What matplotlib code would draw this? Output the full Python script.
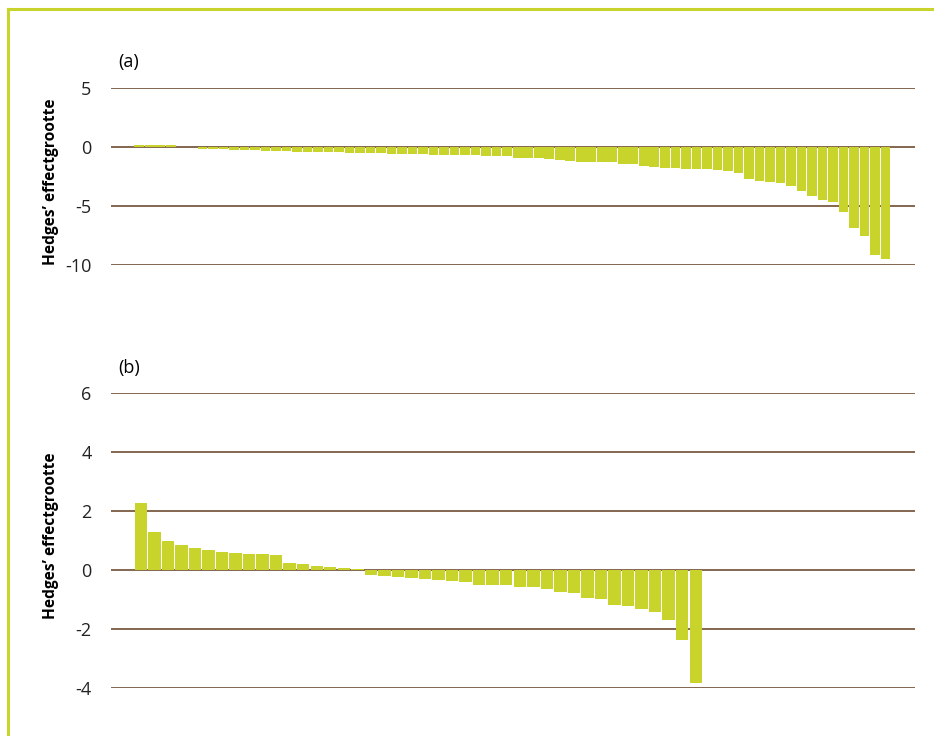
import matplotlib
matplotlib.use('Agg')
import matplotlib.pyplot as plt
from matplotlib.lines import Line2D

# ================================================================
# Data (Hedges' effect sizes, sorted)
# ================================================================
effects_a = [
    0.20, 0.20, 0.15, 0.15, 0.0, 0.0,
    -0.14, -0.14, -0.14, -0.23, -0.23, -0.23, -0.31, -0.31, -0.31,
    -0.40, -0.40, -0.40, -0.40, -0.40, -0.48, -0.48, -0.48, -0.48,
    -0.56, -0.56, -0.56, -0.56, -0.65, -0.65, -0.65, -0.65, -0.65,
    -0.73, -0.73, -0.73, -0.90, -0.90, -0.90, -0.99, -1.07, -1.16,
    -1.24, -1.30, -1.30, -1.30, -1.47, -1.47, -1.61, -1.69, -1.81,
    -1.81, -1.89, -1.89, -1.89, -1.95, -2.03, -2.18, -2.68, -2.85,
    -2.94, -3.02, -3.30, -3.73, -4.12, -4.52, -4.69, -5.48, -6.86,
    -7.51, -9.12, -9.49,
]
effects_b = [
    2.27, 1.30, 0.98, 0.85, 0.75, 0.68, 0.61, 0.59, 0.55, 0.55, 0.52,
    0.24, 0.19, 0.12, 0.10, 0.07, 0.02,
    -0.16, -0.19, -0.23, -0.26, -0.30, -0.34, -0.36, -0.40, -0.50,
    -0.50, -0.50, -0.56, -0.56, -0.63, -0.75, -0.78, -0.94, -0.98,
    -1.17, -1.21, -1.31, -1.43, -1.69, -2.38, -3.83,
]
ticks_a = [5, 0, -5, -10]
ticks_b = [6, 4, 2, 0, -2, -4]
panel_labels = ["(a)", "(b)"]
ylabel = "Hedges\u2019 effectgrootte"

# ================================================================
# Style
# ================================================================
BAR = "#c8d42c"
GRID = "#7b5b42"
plt.rcParams["font.family"] = ["Open Sans", "DejaVu Sans"]

W, H = 934, 736
fig = plt.figure(figsize=(W / 100, H / 100), dpi=100)


def px_axes(left, top, right, bottom):
    return fig.add_axes([left / W, 1 - bottom / H, (right - left) / W, (bottom - top) / H])


def draw_panel(ax, values, ticks, xlim):
    xs = range(len(values))
    ax.bar(xs, values, width=0.92, color=BAR, linewidth=0, zorder=3)
    for t in ticks:
        ax.axhline(t, color=GRID, lw=1.3, zorder=2)
    ax.set_xlim(*xlim)
    ax.set_ylim(min(ticks), max(ticks))
    ax.set_yticks(ticks)
    ax.set_yticklabels([str(t) for t in ticks], fontsize=13, color="#222222")
    ax.tick_params(axis="y", length=0, pad=14)
    ax.set_xticks([])
    for s in ax.spines.values():
        s.set_visible(False)
    ax.set_facecolor("none")


# panel (a)
ax_a = px_axes(111, 88, 915, 265)
draw_panel(ax_a, effects_a, ticks_a, (-2.69, 73.8))

# panel (b)
ax_b = px_axes(111, 393, 915, 688)
draw_panel(ax_b, effects_b, ticks_b, (-2.2, 57.2))

fig.text(118 / W, 1 - 62 / H, panel_labels[0], fontsize=13, va="center", ha="left")
fig.text(118 / W, 1 - 368 / H, panel_labels[1], fontsize=13, va="center", ha="left")
fig.text(51 / W, 1 - 182 / H, ylabel, rotation=90, fontsize=11.2,
         fontweight="bold", ha="center", va="center")
fig.text(51 / W, 1 - 536 / H, ylabel, rotation=90, fontsize=11.2,
         fontweight="bold", ha="center", va="center")

# lime frame on top and left
fig.add_artist(Line2D([7.5 / W, 1], [1 - 8.5 / H, 1 - 8.5 / H], color=BAR, lw=2.2))
fig.add_artist(Line2D([7.5 / W, 7.5 / W], [0, 1 - 8.5 / H], color=BAR, lw=2.2))

fig.savefig("out.png", dpi=100)
